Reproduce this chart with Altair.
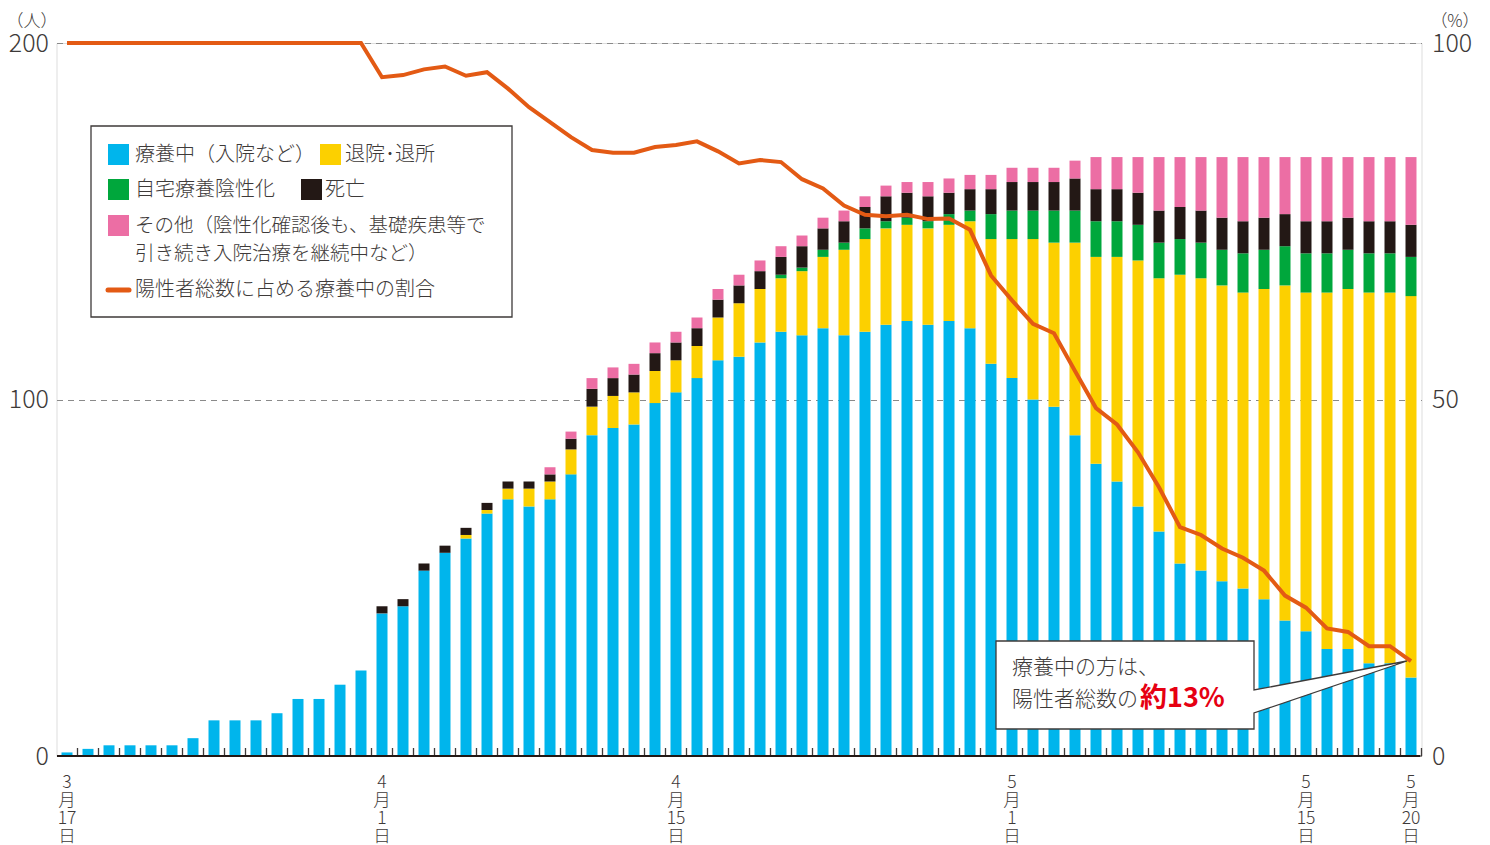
import altair as alt
import pandas as pd

# ---------------- data ----------------
dates = (["3/%d" % d for d in range(17, 32)]
         + ["4/%d" % d for d in range(1, 31)]
         + ["5/%d" % d for d in range(1, 21)])

ryoyo = [1, 2, 3, 3, 3, 3, 5, 10, 10, 10, 12, 16, 16, 20, 24,
         40, 42, 52, 57, 61, 68, 72, 70, 72, 79, 90, 92, 93, 99, 102,
         106, 111, 112, 116, 119, 118, 120, 118, 119, 121, 122, 121, 122, 120, 110,
         106, 100, 98, 90, 82, 77, 70, 63, 54, 52, 49, 47, 44, 38, 35,
         30, 30, 26, 26, 22]
taiin = [0] * 15 + [0, 0, 0, 0, 1, 1, 3, 5, 5, 7, 8, 9, 9, 9, 9,
                    9, 12, 15, 15, 15, 18, 20, 24, 26, 27, 27, 27, 27, 30, 35,
                    39, 45, 46, 54, 58, 63, 69, 71, 81, 82, 83, 83, 87, 94, 95,
                    100, 101, 104, 104, 107]
jitaku = [0] * 15 + [0, 0, 0, 0, 0, 0, 0, 0, 0, 0, 0, 0, 0, 0, 0,
                     0, 0, 0, 0, 1, 1, 2, 2, 3, 2, 2, 2, 3, 3, 7,
                     8, 8, 9, 9, 10, 10, 10, 10, 10, 10, 10, 11, 11, 11, 11,
                     11, 11, 11, 11, 11]
shibo = [0] * 15 + [2, 2, 2, 2, 2, 2, 2, 2, 2, 3, 5, 5, 5, 5, 5,
                    5, 5, 5, 5, 5, 6, 6, 6, 6, 7, 7, 7, 6, 6, 7,
                    8, 8, 8, 9, 9, 9, 9, 9, 9, 9, 9, 9, 9, 9, 9,
                    9, 9, 9, 9, 9]
sonota = [0] * 15 + [0, 0, 0, 0, 0, 0, 0, 0, 2, 2, 3, 3, 3, 3, 3,
                     3, 3, 3, 3, 3, 3, 3, 3, 3, 3, 3, 4, 4, 4, 4,
                     4, 4, 4, 5, 9, 9, 10, 15, 14, 15, 17, 18, 17, 16, 18,
                     18, 17, 18, 18, 19]
ratio = [100] * 15 + [95.2, 95.5, 96.3, 96.7, 95.4, 95.9, 93.6, 91.0, 88.9, 86.8,
                      85.0, 84.6, 84.6, 85.4, 85.7, 86.2, 84.8, 83.1, 83.6, 83.3,
                      80.9, 79.6, 77.2, 75.9, 75.7, 75.9, 75.3, 75.4, 73.8, 67.4,
                      63.9, 60.6, 59.3, 54.0, 48.8, 46.5, 42.6, 37.7, 32.1, 31.0,
                      29.1, 27.8, 26.0, 22.5, 20.8, 17.9, 17.4, 15.4, 15.4, 13.3]

series_names = ["療養中（入院など）", "退院･退所", "自宅療養陰性化", "死亡", "その他"]
series_values = [ryoyo, taiin, jitaku, shibo, sonota]
series_colors = ["#00b5ec", "#fcd000", "#00a73c", "#231815", "#ec6ea4"]
line_color = "#e35a14"

tick_days = [0, 15, 29, 45, 59, 64]
tick_labels = ["3\n月\n17\n日", "4\n月\n1\n日", "4\n月\n15\n日",
               "5\n月\n1\n日", "5\n月\n15\n日", "5\n月\n20\n日"]

legend_texts = ["療養中（入院など）", "退院･退所", "自宅療養陰性化", "死亡",
                "その他（陰性化確認後も、基礎疾患等で", "引き続き入院治療を継続中など）",
                "陽性者総数に占める療養中の割合"]
note_lines = ["療養中の方は、", "陽性者総数の", "約13%"]

# ---------------- tables ----------------
rows = []
for i, d in enumerate(dates):
    for k, (name, vals) in enumerate(zip(series_names, series_values)):
        if vals[i] > 0:
            rows.append({"day": i, "date": d, "series": name, "order": k, "value": vals[i]})
bar_df = pd.DataFrame(rows)
line_df = pd.DataFrame({"day": list(range(len(dates))), "date": dates, "ratio": ratio})
tick_df = pd.DataFrame({"pos": [i + 0.5 for i in range(len(dates))]})
lab_df = pd.DataFrame({"day": tick_days, "label": tick_labels})
one = pd.DataFrame({"k": [0]})

FONT = "Noto Sans CJK JP"
TXT = "#3e3a39"
W, H = 1365, 713

xscale = alt.Scale(domain=[-0.5, len(dates) - 0.5], nice=False, zero=False, padding=0)

bars = alt.Chart(bar_df).mark_bar(size=11).encode(
    x=alt.X("day:Q", scale=xscale, axis=None),
    y=alt.Y("value:Q", stack="zero", scale=alt.Scale(domain=[0, 200], nice=False, padding=0),
            axis=alt.Axis(orient="left", values=[0, 100, 200], title=None, domain=False,
                          ticks=False, grid=True, gridDash=[6, 5], gridColor="#8a8a8a",
                          gridWidth=1.2, labelFont=FONT, labelFontSize=25,
                          labelFontWeight=300, labelColor=TXT, labelPadding=8)),
    color=alt.Color("series:N", scale=alt.Scale(domain=series_names, range=series_colors),
                    legend=None),
    order=alt.Order("order:Q", sort="ascending"),
)

line = alt.Chart(line_df).mark_line(color=line_color, strokeWidth=4).encode(
    x=alt.X("day:Q", scale=xscale, axis=None),
    y=alt.Y("ratio:Q", scale=alt.Scale(domain=[0, 100], nice=False, padding=0),
            axis=alt.Axis(orient="right", values=[0, 50, 100], title=None, domain=False,
                          ticks=False, grid=False, labelFont=FONT, labelFontSize=25,
                          labelFontWeight=300, labelColor=TXT, labelPadding=10)),
)

ticks = alt.Chart(tick_df).mark_rule(color=TXT, strokeWidth=1.3).encode(
    x=alt.X("pos:Q", scale=xscale, axis=None),
    y=alt.value(H - 8), y2=alt.value(H),
)
baseline = alt.Chart(one).mark_rule(color="#231815", strokeWidth=2.2).encode(
    x=alt.value(0.5), x2=alt.value(W - 1), y=alt.value(H)
)
xlabels = alt.Chart(lab_df).mark_text(
    lineBreak="\n", baseline="top", align="center", fontSize=17.5, lineHeight=18,
    font=FONT, fontWeight=300, color=TXT
).encode(x=alt.X("day:Q", scale=xscale, axis=None), y=alt.value(H + 18), text="label:N")


def txt(s, x, y, size=20, color=TXT, weight=300, align="left"):
    return alt.Chart(pd.DataFrame({"t": [s]})).mark_text(
        align=align, baseline="middle", fontSize=size, font=FONT, color=color,
        fontWeight=weight
    ).encode(x=alt.value(x), y=alt.value(y), text="t:N")


def box(x, x2, y, y2, fill, stroke=None, sw=0):
    kw = dict(fill=fill, opacity=1)
    if stroke:
        kw.update(stroke=stroke, strokeWidth=sw)
    return alt.Chart(one).mark_rect(**kw).encode(
        x=alt.value(x), x2=alt.value(x2), y=alt.value(y), y2=alt.value(y2))


# legend (drawn by hand, as in the original figure)
legend = [
    box(34.5, 455.5, 83, 274, "white", TXT, 1.3),
    box(51.5, 72.5, 101, 122, series_colors[0]),
    txt(legend_texts[0], 78.5, 111.5),
    box(263.5, 284.5, 101, 122, series_colors[1]),
    txt(legend_texts[1], 288.5, 111.5),
    box(51.5, 72.5, 136, 157, series_colors[2]),
    txt(legend_texts[2], 78.5, 146.5),
    box(244.5, 265.5, 136, 157, series_colors[3]),
    txt(legend_texts[3], 268.5, 146.5),
    box(51.5, 72.5, 172, 193, series_colors[4]),
    txt(legend_texts[4], 78.5, 182.5, size=19.5),
    txt(legend_texts[5], 78.5, 211, size=19.5),
    alt.Chart(one).mark_rule(color=line_color, strokeWidth=5, strokeCap="round").encode(
        x=alt.value(51.5), x2=alt.value(72.5), y=alt.value(247)),
    txt(legend_texts[6], 78.5, 247),
]

# callout
callout = alt.Chart(one).mark_point(
    shape="M0,0 L258,0 L258,49 L411,20 L258,72 L258,88 L0,88 Z",
    size=4, filled=True, fill="white", fillOpacity=1, stroke=TXT, strokeWidth=1.3,
    strokeOpacity=1, opacity=1
).encode(x=alt.value(939.5), y=alt.value(598))
notes = [
    txt(note_lines[0], 955.5, 625, size=21),
    txt(note_lines[1], 955.5, 657, size=21),
    txt(note_lines[2], 1083.5, 656, size=27, color="#e60012", weight="bold"),
]

units = [
    txt("（人）", -24.5, -21, size=17, align="center"),
    txt("（%）", 1398.5, -21, size=17, align="center"),
]

chart = alt.layer(
    bars, callout, *notes, line, ticks, baseline, xlabels, *legend, *units
).resolve_scale(y="independent").properties(
    width=W, height=H,
    padding={"left": 48.5, "top": 35, "right": 60, "bottom": 90},
    autosize=alt.AutoSizeParams(type="none"),
).configure_view(strokeWidth=0).configure(font=FONT)

chart.save("out.html", embed_options={"renderer": "svg", "actions": False})
